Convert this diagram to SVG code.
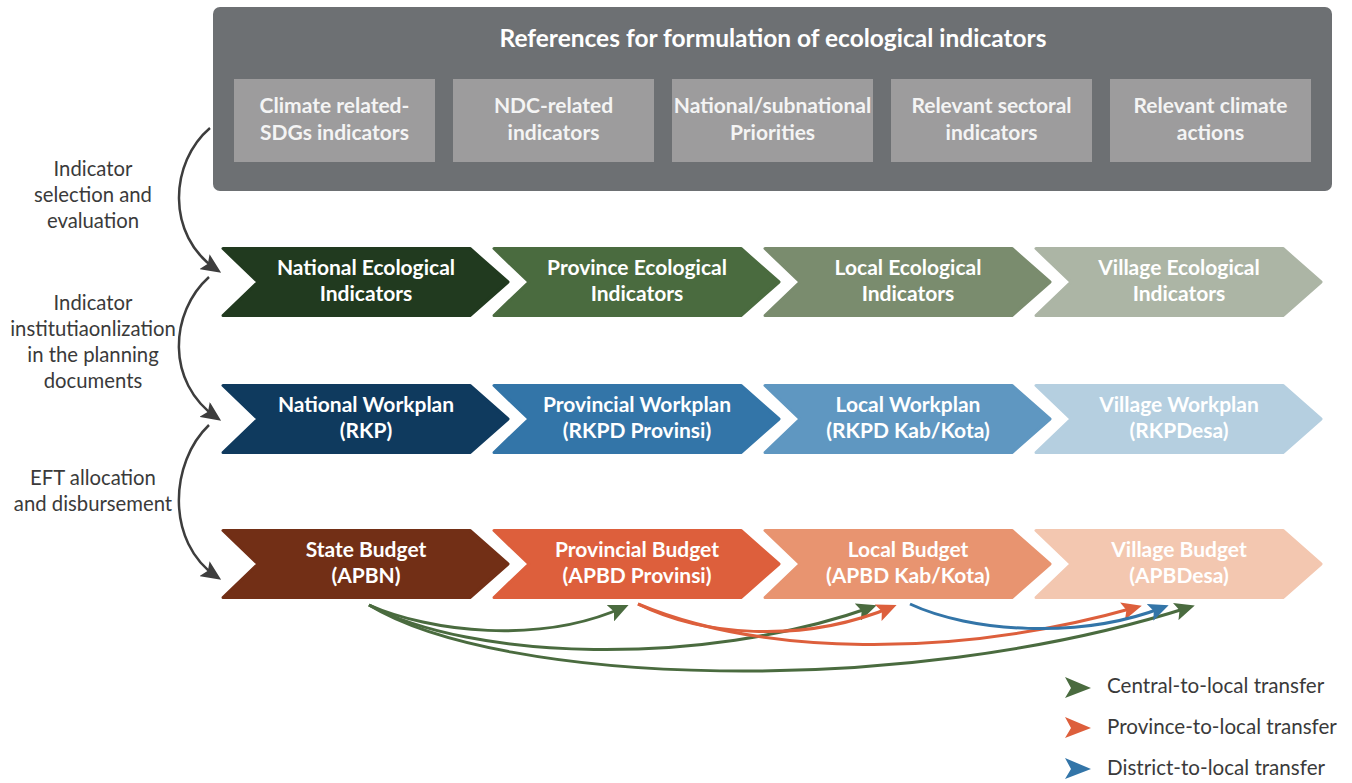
<svg xmlns="http://www.w3.org/2000/svg" width="1352" height="783" viewBox="0 0 1352 783">
<style>
.title{font-family:Lato,"Open Sans",sans-serif;font-weight:700;font-size:24.5px;fill:#fff;text-anchor:middle}
.sub{font-family:Lato,"Open Sans",sans-serif;font-weight:700;font-size:21px;fill:#f4f4f4;text-anchor:middle}
.ch{font-family:Lato,"Open Sans",sans-serif;font-weight:700;font-size:21px;fill:#fff;text-anchor:middle}
.lbl{font-family:Lato,"Open Sans",sans-serif;font-size:20.3px;fill:#3a3a3a;text-anchor:middle}
.leg{font-family:Lato,"Open Sans",sans-serif;font-size:20.6px;fill:#3a3a3a}
.chev{stroke-width:3;stroke-linejoin:round}
.flow{fill:none;stroke-width:3}
.step{fill:none;stroke:#3d3d3d;stroke-width:2.5}
</style>
<defs>
<marker id="mg" markerUnits="userSpaceOnUse" viewBox="0 0 20 18" refX="15" refY="9" markerWidth="20" markerHeight="18" orient="auto"><path d="M0,0 L20,9 L0,18 L4,9 z" fill="#4a6b3f"/></marker>
<marker id="mo" markerUnits="userSpaceOnUse" viewBox="0 0 20 18" refX="15" refY="9" markerWidth="20" markerHeight="18" orient="auto"><path d="M0,0 L20,9 L0,18 L4,9 z" fill="#dd5f3c"/></marker>
<marker id="mb" markerUnits="userSpaceOnUse" viewBox="0 0 20 18" refX="15" refY="9" markerWidth="20" markerHeight="18" orient="auto"><path d="M0,0 L20,9 L0,18 L4,9 z" fill="#3375a8"/></marker>
<marker id="md" markerUnits="userSpaceOnUse" viewBox="0 0 20 18" refX="15" refY="9" markerWidth="20" markerHeight="18" orient="auto"><path d="M0,0 L20,9 L0,18 L4,9 z" fill="#3d3d3d"/></marker>
</defs>

<g id="references">
<rect x="213" y="7" width="1119" height="184" rx="7" fill="#6d7073"/>
<text class="title" x="773" y="47">References for formulation of ecological indicators</text>
</g>
<g id="ref-sdgs"><rect x="234" y="79" width="201" height="83" fill="#9d9c9d"/><text class="sub" x="334.5" y="113">Climate related-</text><text class="sub" x="334.5" y="140">SDGs indicators</text></g>
<g id="ref-ndc"><rect x="453" y="79" width="201" height="83" fill="#9d9c9d"/><text class="sub" x="553.5" y="113">NDC-related</text><text class="sub" x="553.5" y="140">indicators</text></g>
<g id="ref-priorities"><rect x="672" y="79" width="201" height="83" fill="#9d9c9d"/><text class="sub" x="772.5" y="113">National/subnational</text><text class="sub" x="772.5" y="140">Priorities</text></g>
<g id="ref-sectoral"><rect x="891" y="79" width="201" height="83" fill="#9d9c9d"/><text class="sub" x="991.5" y="113">Relevant sectoral</text><text class="sub" x="991.5" y="140">indicators</text></g>
<g id="ref-climate"><rect x="1110" y="79" width="201" height="83" fill="#9d9c9d"/><text class="sub" x="1210.5" y="113">Relevant climate</text><text class="sub" x="1210.5" y="140">actions</text></g>

<g id="eco-national"><path class="chev" d="M223,248.5 L470,248.5 L508,282 L470,315.5 L223,315.5 L258,282 Z" fill="#213a1f" stroke="#213a1f"/><text class="ch" x="366" y="275">National Ecological</text><text class="ch" x="366" y="301">Indicators</text></g>
<g id="eco-province"><path class="chev" d="M494,248.5 L741,248.5 L779,282 L741,315.5 L494,315.5 L529,282 Z" fill="#4a6b3f" stroke="#4a6b3f"/><text class="ch" x="637" y="275">Province Ecological</text><text class="ch" x="637" y="301">Indicators</text></g>
<g id="eco-local"><path class="chev" d="M765,248.5 L1012,248.5 L1050,282 L1012,315.5 L765,315.5 L800,282 Z" fill="#7a8c6e" stroke="#7a8c6e"/><text class="ch" x="908" y="275">Local Ecological</text><text class="ch" x="908" y="301">Indicators</text></g>
<g id="eco-village"><path class="chev" d="M1036,248.5 L1283,248.5 L1321,282 L1283,315.5 L1036,315.5 L1071,282 Z" fill="#acb5a5" stroke="#acb5a5"/><text class="ch" x="1179" y="275">Village Ecological</text><text class="ch" x="1179" y="301">Indicators</text></g>

<g id="wp-national"><path class="chev" d="M223,385.5 L470,385.5 L508,419 L470,452.5 L223,452.5 L258,419 Z" fill="#0f3a5e" stroke="#0f3a5e"/><text class="ch" x="366" y="412">National Workplan</text><text class="ch" x="366" y="438">(RKP)</text></g>
<g id="wp-province"><path class="chev" d="M494,385.5 L741,385.5 L779,419 L741,452.5 L494,452.5 L529,419 Z" fill="#3375a8" stroke="#3375a8"/><text class="ch" x="637" y="412">Provincial Workplan</text><text class="ch" x="637" y="438">(RKPD Provinsi)</text></g>
<g id="wp-local"><path class="chev" d="M765,385.5 L1012,385.5 L1050,419 L1012,452.5 L765,452.5 L800,419 Z" fill="#5f97c1" stroke="#5f97c1"/><text class="ch" x="908" y="412">Local Workplan</text><text class="ch" x="908" y="438">(RKPD Kab/Kota)</text></g>
<g id="wp-village"><path class="chev" d="M1036,385.5 L1283,385.5 L1321,419 L1283,452.5 L1036,452.5 L1071,419 Z" fill="#b5cfe0" stroke="#b5cfe0"/><text class="ch" x="1179" y="412">Village Workplan</text><text class="ch" x="1179" y="438">(RKPDesa)</text></g>

<g id="bg-state"><path class="chev" d="M223,530.5 L470,530.5 L508,564 L470,597.5 L223,597.5 L258,564 Z" fill="#722f16" stroke="#722f16"/><text class="ch" x="366" y="557">State Budget</text><text class="ch" x="366" y="583">(APBN)</text></g>
<g id="bg-province"><path class="chev" d="M494,530.5 L741,530.5 L779,564 L741,597.5 L494,597.5 L529,564 Z" fill="#dd5f3c" stroke="#dd5f3c"/><text class="ch" x="637" y="557">Provincial Budget</text><text class="ch" x="637" y="583">(APBD Provinsi)</text></g>
<g id="bg-local"><path class="chev" d="M765,530.5 L1012,530.5 L1050,564 L1012,597.5 L765,597.5 L800,564 Z" fill="#e89470" stroke="#e89470"/><text class="ch" x="908" y="557">Local Budget</text><text class="ch" x="908" y="583">(APBD Kab/Kota)</text></g>
<g id="bg-village"><path class="chev" d="M1036,530.5 L1283,530.5 L1321,564 L1283,597.5 L1036,597.5 L1071,564 Z" fill="#f3c7b0" stroke="#f3c7b0"/><text class="ch" x="1179" y="557">Village Budget</text><text class="ch" x="1179" y="583">(APBDesa)</text></g>

<g id="step-labels">
<text class="lbl" x="93" y="176">Indicator</text>
<text class="lbl" x="93" y="202">selection and</text>
<text class="lbl" x="93" y="228">evaluation</text>
<text class="lbl" x="93" y="310">Indicator</text>
<text class="lbl" x="93" y="336">institutiaonlization</text>
<text class="lbl" x="93" y="362">in the planning</text>
<text class="lbl" x="93" y="388">documents</text>
<text class="lbl" x="93" y="485">EFT allocation</text>
<text class="lbl" x="93" y="511">and disbursement</text>
</g>

<g id="connectors">
<path class="step" d="M210,128 C170,162 165,235 217,270" marker-end="url(#md)"/>
<path class="step" d="M209,277 C170,312 165,382 217,418" marker-end="url(#md)"/>
<path class="step" d="M209,425 C170,462 165,542 217,577" marker-end="url(#md)"/>
<path class="flow" stroke="#4a6b3f" d="M369,605 C430,632 540,645 624,607" marker-end="url(#mg)"/>
<path class="flow" stroke="#4a6b3f" d="M369,605 C470,660 700,668 872,607" marker-end="url(#mg)"/>
<path class="flow" stroke="#4a6b3f" d="M369,605 C500,685 900,700 1190,607" marker-end="url(#mg)"/>
<path class="flow" stroke="#dd5f3c" d="M638,604 C700,635 800,645 892,607" marker-end="url(#mo)"/>
<path class="flow" stroke="#dd5f3c" d="M638,604 C760,655 950,660 1137,607" marker-end="url(#mo)"/>
<path class="flow" stroke="#3375a8" d="M910,604 C970,632 1080,640 1164,607" marker-end="url(#mb)"/>
</g>

<g id="legend">
<path d="M1065,677 L1091,688 L1065,698 L1071,688 Z" fill="#4a6b3f"/>
<text class="leg" x="1107" y="693">Central-to-local transfer</text>
<path d="M1065,717 L1091,728 L1065,738 L1071,728 Z" fill="#dd5f3c"/>
<text class="leg" x="1107" y="734">Province-to-local transfer</text>
<path d="M1065,758 L1091,769 L1065,779 L1071,769 Z" fill="#3375a8"/>
<text class="leg" x="1107" y="775">District-to-local transfer</text>
</g>
</svg>
